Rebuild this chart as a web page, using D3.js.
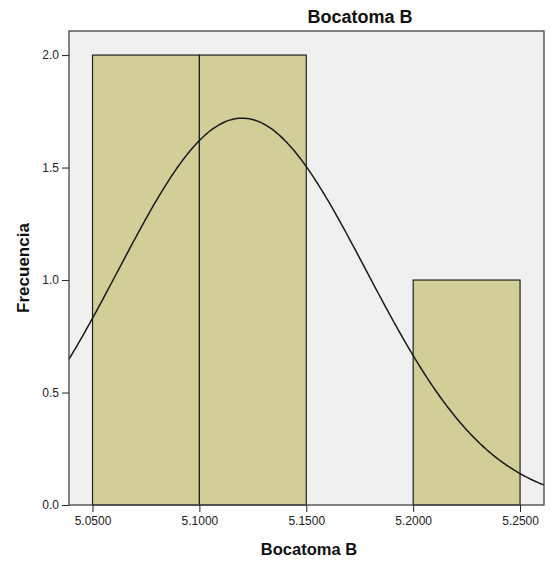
<!DOCTYPE html>
<html><head><meta charset="utf-8">
<script src="https://cdn.jsdelivr.net/npm/d3@7"></script>
<style>body{margin:0;background:#fff;} text{font-family:Arial,"Liberation Sans",sans-serif;}</style>
</head><body><svg id="c" width="550" height="562"></svg>
<script>
const binStarts = [5.05, 5.10, 5.15, 5.20];
const binWidth = 0.05;
const frequencies = [2, 2, 0, 1];
const xTicks = [5.05, 5.10, 5.15, 5.20, 5.25];
const yTicks = [0.0, 0.5, 1.0, 1.5, 2.0];
const curveMean = 5.12;
const curveSd = 0.058;
const nObs = 5;
const xDomain = [5.039, 5.2612];
const yDomain = [0, 2.107];

const svg = d3.select("#c");
const L = 69, R = 544, T = 31, B = 505;
const x = d3.scaleLinear().domain(xDomain).range([L, R]);
const y = d3.scaleLinear().domain(yDomain).range([B, T]);

svg.append("rect").attr("x", L).attr("y", T).attr("width", R - L).attr("height", B - T)
  .attr("fill", "#f0f0f0").attr("stroke", "none");

svg.selectAll("rect.bar").data(binStarts.map((s, i) => ({s, f: frequencies[i]})).filter(d => d.f > 0))
  .enter().append("rect").attr("class", "bar")
  .attr("x", d => x(d.s)).attr("y", d => y(d.f))
  .attr("width", d => x(d.s + binWidth) - x(d.s)).attr("height", d => y(0) - y(d.f))
  .attr("fill", "#d3ce98").attr("stroke", "#222").attr("stroke-width", 1.2);

const pts = d3.range(0, 301).map(i => {
  const xv = xDomain[0] + (xDomain[1] - xDomain[0]) * i / 300;
  const dens = Math.exp(-0.5 * ((xv - curveMean) / curveSd) ** 2) / (curveSd * Math.sqrt(2 * Math.PI));
  return [xv, dens * nObs * binWidth];
});
svg.append("path").datum(pts)
  .attr("d", d3.line().x(d => x(d[0])).y(d => y(d[1])).curve(d3.curveBasis))
  .attr("fill", "none").attr("stroke", "#1a1a1a").attr("stroke-width", 1.5);

svg.append("rect").attr("x", L).attr("y", T).attr("width", R - L).attr("height", B - T)
  .attr("fill", "none").attr("stroke", "#444").attr("stroke-width", 1.3);

const xAxis = svg.append("g").attr("transform", `translate(0,${B})`)
  .call(d3.axisBottom(x).tickValues(xTicks).tickFormat(d3.format(".4f")).tickSize(7).tickPadding(4));
const yAxis = svg.append("g").attr("transform", `translate(${L},0)`)
  .call(d3.axisLeft(y).tickValues(yTicks).tickFormat(d3.format(".1f")).tickSize(7).tickPadding(3));
[xAxis, yAxis].forEach(g => {
  g.select(".domain").remove();
  g.selectAll("line").attr("stroke", "#222");
  g.selectAll("text").attr("fill", "#222").style("font-size", "12px");
});

svg.append("text").attr("x", 360).attr("y", 23).attr("text-anchor", "middle")
  .style("font-size", "18px").style("font-weight", "bold").attr("fill", "#111").text("Bocatoma B");
svg.append("text").attr("x", 309).attr("y", 555).attr("text-anchor", "middle")
  .style("font-size", "16.5px").style("font-weight", "bold").attr("fill", "#111").text("Bocatoma B");
svg.append("text").attr("transform", `translate(29,${(T + B) / 2}) rotate(-90)`).attr("text-anchor", "middle")
  .style("font-size", "17px").style("font-weight", "bold").attr("fill", "#111").text("Frecuencia");
</script></body></html>
